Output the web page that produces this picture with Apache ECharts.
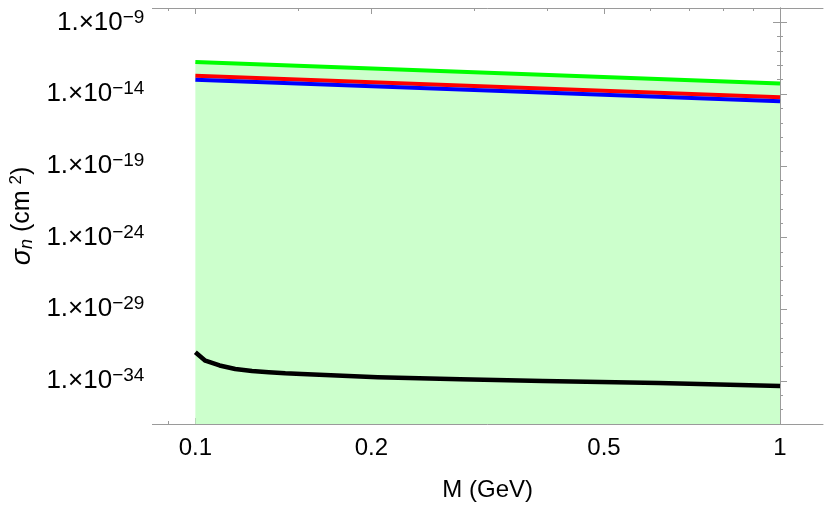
<!DOCTYPE html>
<html><head><meta charset="utf-8">
<script src="https://cdn.jsdelivr.net/npm/echarts@6/dist/echarts.min.js"></script>
<style>html,body{margin:0;padding:0;background:#fff}#c{width:830px;height:507px}</style>
</head><body><div id="c"></div>
<script>
// ---- data ----
const lineMass = [0.1, 1.0];                       // GeV
const greenSigma = [1.7e-12, 5.5e-14];             // cm^2
const redSigma = [1.9e-13, 5.9e-15];
const blueSigma = [1.0e-13, 3.1e-15];
const blackMass = [0.1, 0.104, 0.11, 0.117, 0.125, 0.1335, 0.1425, 0.152, 0.205, 0.284, 0.393, 0.62, 1.0];
const blackSigma = [1.0e-32, 2.6e-33, 1.2e-33, 6.8e-34, 4.9e-34, 4.0e-34, 3.4e-34, 3.1e-34, 1.8e-34, 1.3e-34, 1.0e-34, 7.2e-35, 4.5e-35];
const xMajorTicks = [0.1, 0.2, 0.5, 1];
const xTickLabels = ['0.1', '0.2', '0.5', '1'];
const xMinorTicks = [0.09, 0.15, 0.3, 0.4, 0.6, 0.7, 0.8, 0.9];
const yMajorExponents = [-34, -29, -24, -19, -14, -9];
const xRange = [0.08444, 1.1844];
const yExponentRange = [-37, -8];

// ---- chart ----
const FONT = '"Liberation Sans", Arial, sans-serif';
const GRAY = '#9a9a9a';
const lg = Math.log10;
const pts = (ms, ss) => ms.map((m, i) => [lg(m), lg(ss[i])]);

const xBase = { type: 'value', gridIndex: 0, min: lg(xRange[0]), max: lg(xRange[1]), splitLine: { show: false } };
const yBase = { type: 'value', gridIndex: 0, min: yExponentRange[0], max: yExponentRange[1], splitLine: { show: false } };
const axLine = { show: true, lineStyle: { color: GRAY, width: 1 } };
const noLine = { show: false };
const majX = xMajorTicks.map(lg);
const minX = xMinorTicks.map(lg);

const yLabelFmt = v => '{b|1.×10}{s|−' + Math.abs(Math.round(v)) + '}';
const xLabelFmt = v => {
  const i = majX.findIndex(t => Math.abs(t - v) < 1e-6);
  return i >= 0 ? xTickLabels[i] : '';
};

const option = {
  animation: false,
  backgroundColor: '#fff',
  grid: { left: 146, right: 7, top: 8, bottom: 80, containLabel: false },
  xAxis: [
    Object.assign({}, xBase, {
      position: 'bottom', axisLine: axLine,
      axisTick: { show: true, inside: true, length: 6, customValues: majX, lineStyle: { color: GRAY } },
      axisLabel: { show: true, customValues: majX, formatter: xLabelFmt, margin: 12, color: '#000', fontSize: 24, fontFamily: FONT },
      name: 'M (GeV)', nameLocation: 'middle', nameGap: 54,
      nameTextStyle: { color: '#000', fontSize: 24, fontFamily: FONT }
    }),
    Object.assign({}, xBase, {
      position: 'top', axisLine: axLine,
      axisTick: { show: true, inside: true, length: 6, customValues: majX, lineStyle: { color: GRAY } },
      axisLabel: { show: false }
    }),
    Object.assign({}, xBase, {
      position: 'bottom', axisLine: noLine,
      axisTick: { show: true, inside: true, length: 3, customValues: minX, lineStyle: { color: GRAY } },
      axisLabel: { show: false }
    }),
    Object.assign({}, xBase, {
      position: 'top', axisLine: noLine,
      axisTick: { show: true, inside: true, length: 3, customValues: minX, lineStyle: { color: GRAY } },
      axisLabel: { show: false }
    })
  ],
  yAxis: [
    Object.assign({}, yBase, {
      position: 'left', axisLine: axLine,
      axisTick: { show: true, inside: true, length: 7, customValues: yMajorExponents, lineStyle: { color: GRAY } },
      axisLabel: {
        show: true, customValues: yMajorExponents, formatter: yLabelFmt, margin: 8, color: '#000',
        rich: {
          b: { fontSize: 26, fontFamily: FONT, color: '#000' },
          s: { fontSize: 19, fontFamily: FONT, color: '#000', padding: [0, 0, 10, 0] }
        }
      },
      name: '{i|σ}{sub|n}{t| (cm}{sup|2}{t|)}', nameLocation: 'middle', nameRotate: 90, nameGap: 116,
      nameTextStyle: {
        color: '#000',
        rich: {
          i: { fontSize: 27, fontFamily: FONT, fontStyle: 'italic', color: '#000' },
          sub: { fontSize: 18, fontFamily: FONT, fontStyle: 'italic', color: '#000', padding: [9, 0, 0, 0] },
          t: { fontSize: 25, fontFamily: FONT, color: '#000' },
          sup: { fontSize: 17, fontFamily: FONT, color: '#000', padding: [0, 0, 11, 6] }
        }
      }
    }),
    Object.assign({}, yBase, {
      position: 'right', axisLine: axLine,
      axisTick: { show: true, inside: true, length: 7, customValues: yMajorExponents, lineStyle: { color: GRAY } },
      axisLabel: { show: false }
    }),
    Object.assign({}, yBase, {
      position: 'left', axisLine: noLine, interval: 1,
      axisTick: { show: true, inside: true, length: 3, lineStyle: { color: GRAY } },
      axisLabel: { show: false }
    }),
    Object.assign({}, yBase, {
      position: 'right', axisLine: noLine, interval: 1,
      axisTick: { show: true, inside: true, length: 3, lineStyle: { color: GRAY } },
      axisLabel: { show: false }
    })
  ],
  series: [
    {
      type: 'line', name: 'region', data: pts(lineMass, greenSigma), symbol: 'none', silent: true,
      lineStyle: { width: 0 }, areaStyle: { color: '#ccffcc', opacity: 1, origin: 'start' }, z: 1
    },
    { type: 'line', name: 'green', data: pts(lineMass, greenSigma), symbol: 'none', lineStyle: { color: '#00ff00', width: 4, cap: 'butt' }, z: 3 },
    { type: 'line', name: 'red', data: pts(lineMass, redSigma), symbol: 'none', lineStyle: { color: '#ff0000', width: 4, cap: 'butt' }, z: 3 },
    { type: 'line', name: 'blue', data: pts(lineMass, blueSigma), symbol: 'none', lineStyle: { color: '#0000ff', width: 4, cap: 'butt' }, z: 4 },
    { type: 'line', name: 'black', data: pts(blackMass, blackSigma), symbol: 'none', smooth: false, lineStyle: { color: '#000', width: 4.5, cap: 'butt', join: 'round' }, z: 4 }
  ]
};
const chart = echarts.init(document.getElementById('c'), null, { renderer: 'canvas' });
chart.setOption(option);
</script></body></html>
